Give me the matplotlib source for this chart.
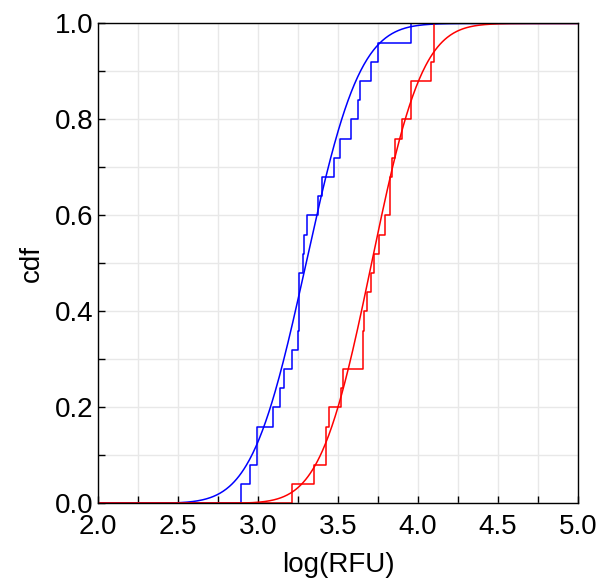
import math
import numpy as np
import matplotlib
matplotlib.use("Agg")
import matplotlib.pyplot as plt
from matplotlib.ticker import MultipleLocator

plt.rcParams['font.family'] = ['Liberation Sans', 'DejaVu Sans']

blue_vals = [2.893, 2.949, 2.991, 2.991, 3.095, 3.137, 3.164, 3.212,
             3.252, 3.254, 3.256, 3.258, 3.283, 3.285, 3.304, 3.373,
             3.402, 3.477, 3.514, 3.583, 3.623, 3.638, 3.707, 3.752, 3.957]
red_vals = [3.214, 3.348, 3.423, 3.425, 3.444, 3.521, 3.533, 3.658,
            3.659, 3.660, 3.680, 3.707, 3.727, 3.758, 3.794, 3.825,
            3.826, 3.836, 3.857, 3.902, 3.957, 3.958, 4.082, 4.103, 4.104]

# normal fits (mean, sd)
blue_fit = (3.30, 0.265)
red_fit = (3.71, 0.25)


def ecdf(vals):
    v = np.sort(np.asarray(vals))
    n = len(v)
    x = np.concatenate([[2.0], v, [5.0]])
    y = np.concatenate([[0.0], np.arange(1, n + 1) / n, [1.0]])
    return x, y


def norm_cdf(x, mu, sd):
    return np.array([0.5 * (1 + math.erf((xi - mu) / (sd * math.sqrt(2)))) for xi in x])


fig = plt.figure(figsize=(6, 5.8), dpi=100)
ax = fig.add_axes([0.1638, 0.1322, 0.799, 0.8273])

xs = np.linspace(2.0, 5.0, 600)
for vals, (mu, sd), col in [(blue_vals, blue_fit, 'blue'), (red_vals, red_fit, 'red')]:
    ex, ey = ecdf(vals)
    ax.step(ex, ey, where='post', color=col, lw=1.1)
    ax.plot(xs, norm_cdf(xs, mu, sd), color=col, lw=1.1)

ax.set_xlim(2.0, 5.0)
ax.set_ylim(0.0, 1.0)
ax.xaxis.set_major_locator(MultipleLocator(0.5))
ax.xaxis.set_minor_locator(MultipleLocator(0.25))
ax.yaxis.set_major_locator(MultipleLocator(0.2))
ax.yaxis.set_minor_locator(MultipleLocator(0.1))
ax.xaxis.set_major_formatter(plt.FormatStrFormatter('%.1f'))
ax.yaxis.set_major_formatter(plt.FormatStrFormatter('%.1f'))

ax.grid(True, which='both', color='#e8e8e8', lw=1)
ax.set_axisbelow(True)
ax.tick_params(which='both', direction='in', length=5, width=1, labelsize=20,
               top=False, right=False)
ax.tick_params(axis='x', pad=8)
for s in ax.spines.values():
    s.set_linewidth(1)

ax.set_xlabel('log(RFU)', fontsize=20, labelpad=8)
ax.set_ylabel('cdf', fontsize=20, labelpad=7)

fig.savefig('out.png', dpi=100)
